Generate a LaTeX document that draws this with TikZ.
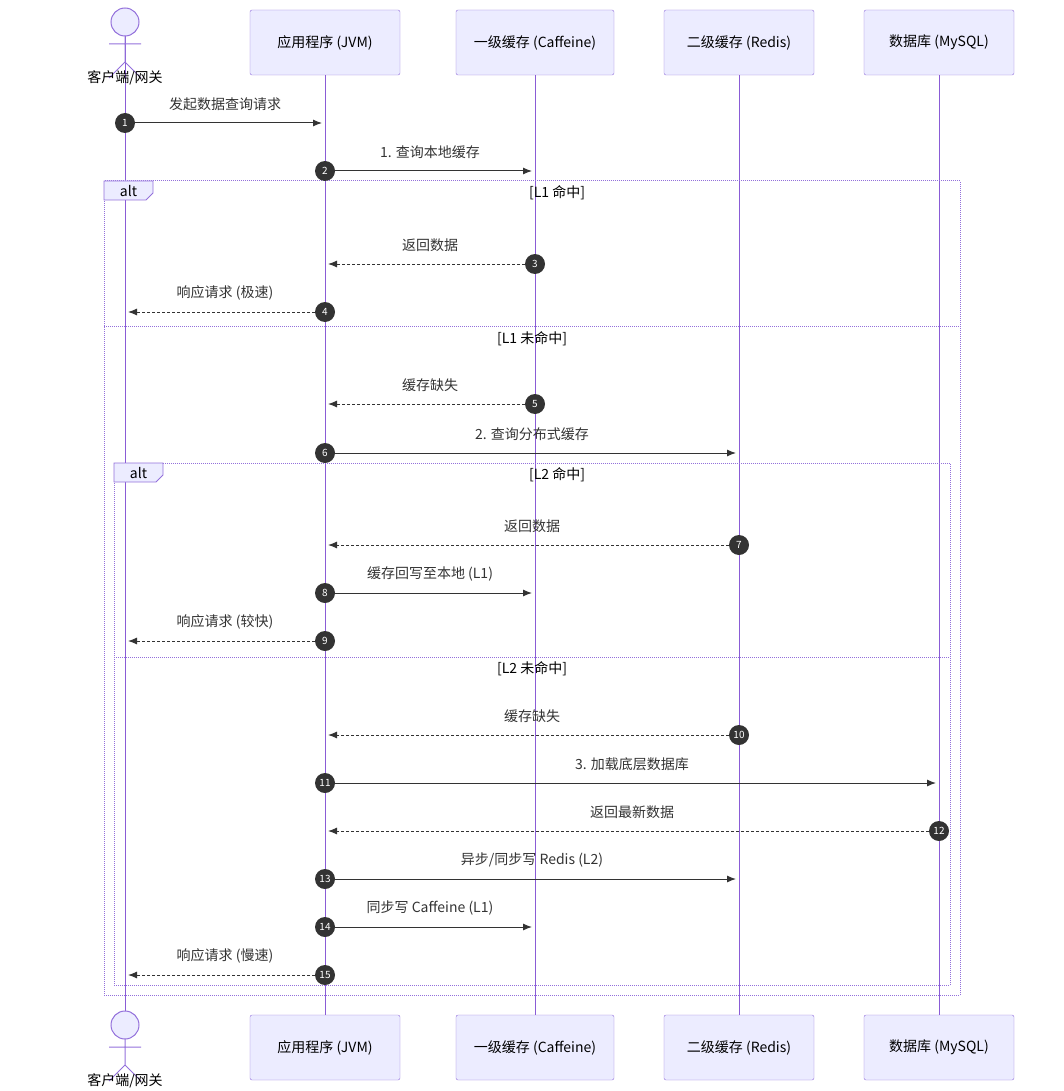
\documentclass[tikz,border=0pt]{standalone}
\usepackage{fontspec}
\setmainfont{Noto Sans CJK SC}
\usetikzlibrary{arrows.meta,positioning}
\definecolor{boxfill}{HTML}{ECECFF}
\definecolor{boxline}{HTML}{9370DB}
\definecolor{lifeline}{HTML}{8A5CD6}
\definecolor{ink}{HTML}{333333}
\tikzset{
  partbox/.style={draw=boxline,fill=boxfill,rounded corners=2pt,minimum width=150pt,
    minimum height=65pt,font=\fontsize{14}{16}\selectfont},
  life/.style={draw=lifeline,line width=1pt},
  msgline/.style={draw=ink,line width=1pt,-{Latex[length=9pt,width=7pt]}},
  reply/.style={msgline,dashed,dash pattern=on 3pt off 2pt},
  msglabel/.style={font=\fontsize{14}{16}\selectfont,text=ink},
  seqnum/.style={circle,fill=ink,text=white,inner sep=0pt,minimum size=20pt,
    font=\fontsize{10}{12}\selectfont},
  altframe/.style={draw=boxline,densely dotted,line width=1pt},
  alttab/.style={draw=boxline,fill=boxfill,line width=0.8pt},
  guard/.style={font=\fontsize{14}{16}\selectfont,text=black},
}
% #1 number, #2 y, #3 from x, #4 to x, #5 style, #6 label
\newcommand{\seqmsg}[6]{%
  \coordinate (s#1) at (#3,#2);
  \coordinate (t#1) at (#4,#2);
  \draw[#5] (s#1) -- ($(t#1)!3pt!(s#1)$);
  \node[msglabel] (l#1) at ($(s#1)!0.5!(t#1)+(0,-19)$) {#6};
  \node[seqnum] (n#1) at (s#1) {#1};
}
\usetikzlibrary{calc}
\newcommand{\stickman}[3]{%
  \draw[draw=boxline,fill=boxfill,line width=1pt] (#1,#2) circle (14);
  \draw[draw=boxline,line width=1pt] (#1,#2+14) -- (#1,#2+40)
    (#1-16,#2+22) -- (#1+16,#2+22)
    (#1,#2+40) -- (#1-16,#2+56) (#1,#2+40) -- (#1+16,#2+56);
  \node[msglabel,text=black] (#3) at (#1,#2+56) {客户端/网关};
}
\begin{document}
\begin{tikzpicture}[x=1pt,y=-1pt]
\useasboundingbox (0,0) rectangle (1064,1091);

% lifelines
\draw[life] (125,36) -- (125,1011);
\draw[life] (325,75) -- (325,1015);
\draw[life] (535,75) -- (535,1015);
\draw[life] (739,75) -- (739,1015);
\draw[life] (939,75) -- (939,1015);

% participants
\stickman{125}{22}{clientTop}
\stickman{125}{1025}{clientBot}
\node[partbox] (appTop) at (325,42.5) {应用程序 (JVM)};
\node[partbox,minimum width=158pt] (l1Top) at (535,42.5) {一级缓存 (Caffeine)};
\node[partbox] (l2Top) at (739,42.5) {二级缓存 (Redis)};
\node[partbox] (dbTop) at (939,42.5) {数据库 (MySQL)};
\node[partbox] (appBot) at (325,1047.5) {应用程序 (JVM)};
\node[partbox,minimum width=158pt] (l1Bot) at (535,1047.5) {一级缓存 (Caffeine)};
\node[partbox] (l2Bot) at (739,1047.5) {二级缓存 (Redis)};
\node[partbox] (dbBot) at (939,1047.5) {数据库 (MySQL)};

% outer alt
\draw[altframe] (104,181) rectangle (960,995);
\draw[alttab] (104,181) -- (153,181) -- (153,193) -- (146,200) -- (104,200) -- cycle;
\node[guard] (altA) at (128.5,191) {alt};
\node[guard] (g1) at (557,193) {[L1 命中]};
\draw[altframe] (104,326) -- (960,326);
\node[guard] (g2) at (532,339) {[L1 未命中]};

% inner alt
\draw[altframe] (114,463) rectangle (950,985);
\draw[alttab] (114,463) -- (163,463) -- (163,475) -- (156,482) -- (114,482) -- cycle;
\node[guard] (altB) at (138.5,473) {alt};
\node[guard] (g3) at (557,475) {[L2 命中]};
\draw[altframe] (114,657) -- (950,657);
\node[guard] (g4) at (532,669) {[L2 未命中]};

% messages
\seqmsg{1}{123}{125}{325}{msgline}{发起数据查询请求}
\seqmsg{2}{171}{325}{535}{msgline}{1. 查询本地缓存}
\seqmsg{3}{264}{535}{325}{reply}{返回数据}
\seqmsg{4}{312}{325}{125}{reply}{响应请求 (极速)}
\seqmsg{5}{404}{535}{325}{reply}{缓存缺失}
\seqmsg{6}{453}{325}{739}{msgline}{2. 查询分布式缓存}
\seqmsg{7}{545}{739}{325}{reply}{返回数据}
\seqmsg{8}{593}{325}{535}{msgline}{缓存回写至本地 (L1)}
\seqmsg{9}{641}{325}{125}{reply}{响应请求 (较快)}
\seqmsg{10}{735}{739}{325}{reply}{缓存缺失}
\seqmsg{11}{783}{325}{939}{msgline}{3. 加载底层数据库}
\seqmsg{12}{831}{939}{325}{reply}{返回最新数据}
\seqmsg{13}{879}{325}{739}{msgline}{异步/同步写 Redis (L2)}
\seqmsg{14}{927}{325}{535}{msgline}{同步写 Caffeine (L1)}
\seqmsg{15}{975}{325}{125}{reply}{响应请求 (慢速)}

\end{tikzpicture}
\end{document}
